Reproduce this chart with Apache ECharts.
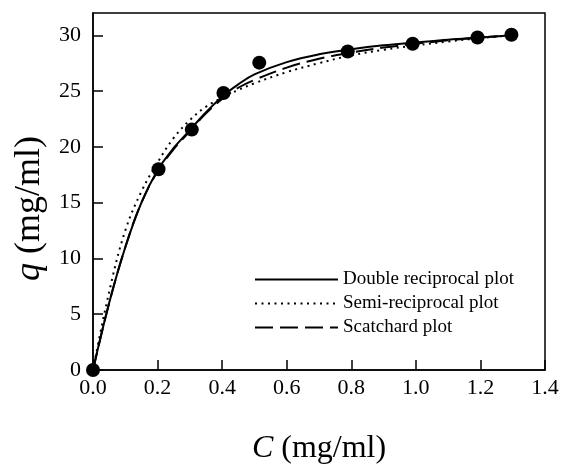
<!DOCTYPE html>
<html>
<head>
<meta charset="utf-8">
<script src="https://cdn.jsdelivr.net/npm/echarts@6/dist/echarts.min.js"></script>
<style>
html,body{margin:0;padding:0;background:#fff;}
#chart{width:562px;height:465px;}
</style>
</head>
<body>
<div id="chart"></div>
<script>
// Experimental points
const expC = [0, 0.203, 0.306, 0.404, 0.515, 0.789, 0.99, 1.191, 1.296];
const expQ = [0, 18.0, 21.55, 24.83, 27.55, 28.55, 29.25, 29.8, 30.05];

// Fitted curves
const curveC = [0, 0.05, 0.1, 0.15, 0.2, 0.25, 0.3, 0.35, 0.4, 0.45, 0.5, 0.6, 0.7, 0.8, 0.9, 1.0, 1.1, 1.2, 1.3];
const doubleRecip = [0, 6.0, 11.0, 15.0, 17.9, 19.9, 21.5, 23.1, 24.5, 25.6, 26.5, 27.6, 28.3, 28.75, 29.1, 29.35, 29.6, 29.8, 30.0];
const semiRecip   = [0, 7.0, 12.5, 16.0, 18.6, 20.8, 22.4, 23.6, 24.4, 25.1, 25.7, 26.7, 27.5, 28.2, 28.7, 29.1, 29.45, 29.75, 30.0];
const scatchard   = [0, 6.0, 11.0, 15.0, 17.8, 19.8, 21.4, 23.0, 24.3, 25.3, 26.0, 27.1, 27.9, 28.45, 28.9, 29.25, 29.55, 29.8, 30.0];

const seriesNames = ['Double reciprocal plot', 'Semi-reciprocal plot', 'Scatchard plot'];
const xTicks = [0, 0.2, 0.4, 0.6, 0.8, 1.0, 1.2, 1.4];
const yTicks = [0, 5, 10, 15, 20, 25, 30];

const zip = (a, b) => a.map((v, i) => [v, b[i]]);
const FONT = '"Liberation Serif", "Times New Roman", serif';

const chart = echarts.init(document.getElementById('chart'), null, {renderer: 'canvas'});
chart.setOption({
  animation: false,
  backgroundColor: '#fff',
  color: ['#000', '#000', '#000', '#000'],
  textStyle: {fontFamily: FONT, color: '#000'},
  grid: {left: 93, right: 17, top: 13, bottom: 95, show: true, borderColor: '#000', borderWidth: 1.5,
    containLabel: false, outerBoundsMode: 'none'},
  legend: {
    data: seriesNames,
    orient: 'vertical',
    left: 254, top: 270,
    itemWidth: 83, itemHeight: 14, itemGap: 5,
    padding: 0,
    itemStyle: {opacity: 0},
    textStyle: {fontFamily: FONT, fontSize: 19, color: '#000'}
  },
  xAxis: {
    type: 'value', min: xTicks[0], max: xTicks[xTicks.length - 1], interval: 0.2,
    name: '{i|C} (mg/ml)', nameLocation: 'middle', nameGap: 63,
    nameTextStyle: {fontFamily: FONT, fontSize: 32, color: '#000', rich: {i: {fontFamily: FONT, fontSize: 32, fontStyle: 'italic', color: '#000'}}},
    axisLine: {lineStyle: {color: '#000', width: 1.5}},
    axisTick: {inside: true, length: 10, lineStyle: {color: '#000', width: 1.5}},
    axisLabel: {fontFamily: FONT, fontSize: 22, color: '#000', margin: 7, formatter: v => v.toFixed(1)},
    splitLine: {show: false}
  },
  yAxis: {
    type: 'value', min: 0, max: 32, interval: 5,
    name: '{i|q} (mg/ml)', nameLocation: 'middle', nameGap: 45,
    nameTextStyle: {fontFamily: FONT, fontSize: 36, color: '#000', padding: [0, 34, 0, 0], rich: {i: {fontFamily: FONT, fontSize: 36, fontStyle: 'italic', color: '#000'}}},
    axisLine: {lineStyle: {color: '#000', width: 1.5}},
    axisTick: {inside: true, length: 10, lineStyle: {color: '#000', width: 1.5}},
    axisLabel: {fontFamily: FONT, fontSize: 22, color: '#000', margin: 12, showMaxLabel: false,
      formatter: v => (yTicks.indexOf(v) >= 0 ? String(v) : '')},
    splitLine: {show: false}
  },
  series: [
    {name: seriesNames[0], type: 'line', data: zip(curveC, doubleRecip), smooth: 0.4, symbol: 'none',
      itemStyle: {color: '#000'}, lineStyle: {color: '#000', width: 2, type: 'solid'}, z: 2},
    {name: seriesNames[1], type: 'line', data: zip(curveC, semiRecip), smooth: 0.4, symbol: 'none',
      itemStyle: {color: '#000'}, lineStyle: {color: '#000', width: 2, type: [2, 4.5]}, z: 2},
    {name: seriesNames[2], type: 'line', data: zip(curveC, scatchard), smooth: 0.4, symbol: 'none',
      itemStyle: {color: '#000'}, lineStyle: {color: '#000', width: 2, type: [18, 7]}, z: 2},
    {name: 'data', type: 'scatter', data: zip(expC, expQ), symbol: 'circle', symbolSize: 14,
      itemStyle: {color: '#000', opacity: 1}, z: 5, clip: false}
  ]
});
</script>
</body>
</html>
